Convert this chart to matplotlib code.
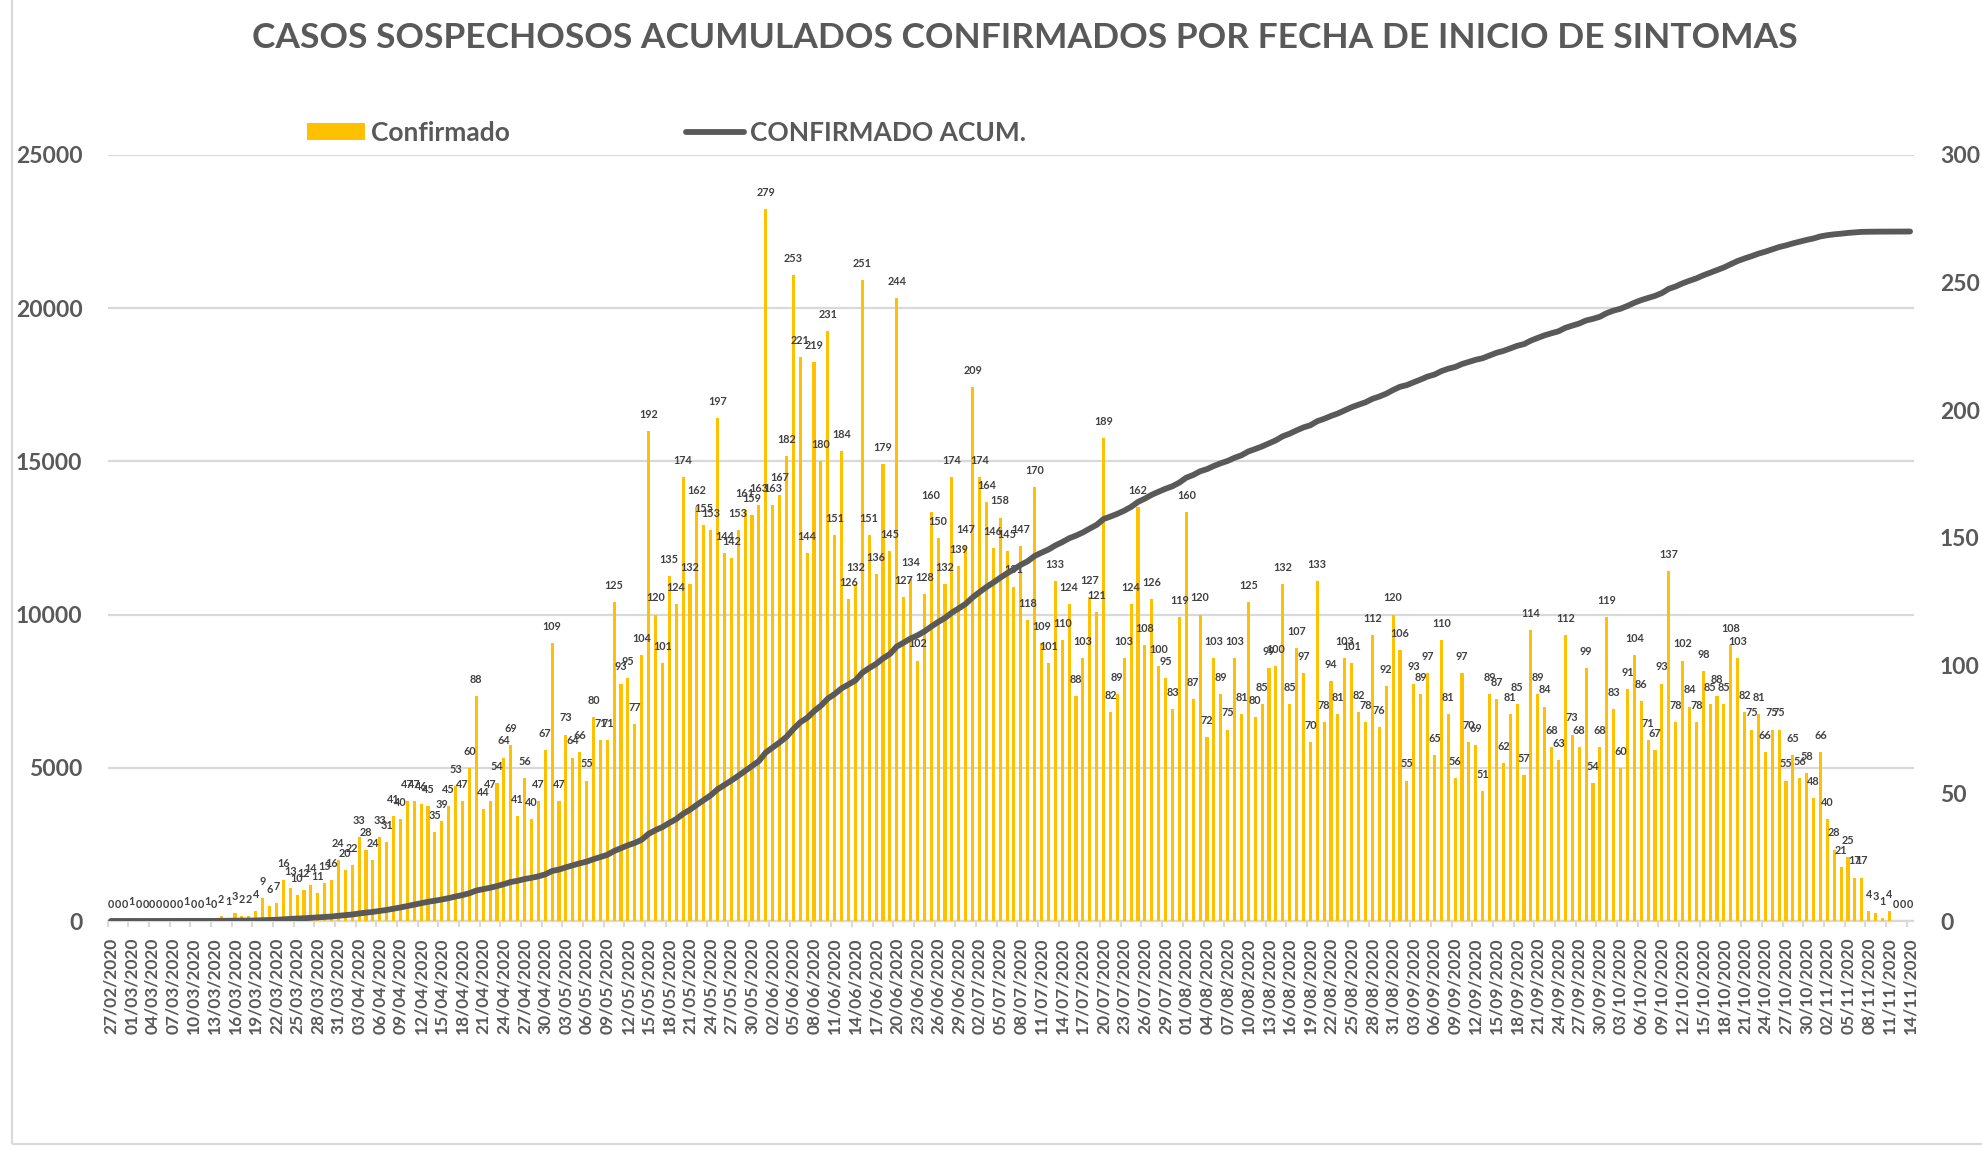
import numpy as np
import pandas as pd
import matplotlib
matplotlib.use('Agg')
import matplotlib.pyplot as plt
from matplotlib.patches import Patch, Rectangle
from matplotlib.lines import Line2D

FECHA_INICIO = '2020-02-27'

# casos confirmados por fecha de inicio de sintomas, un bloque por mes
feb = [0, 0, 0]
mar = [1, 0, 0, 0, 0, 0, 0, 0, 1, 0, 0, 1, 0, 2, 1, 3, 2, 2, 4, 9, 6, 7, 16, 13, 10,
       12, 14, 11, 15, 16, 24]
abr = [20, 22, 33, 28, 24, 33, 31, 41, 40, 47, 47, 46, 45, 35, 39, 45, 53, 47, 60, 88,
       44, 47, 54, 64, 69, 41, 56, 40, 47, 67]
may = [109, 47, 73, 64, 66, 55, 80, 71, 71, 125, 93, 95, 77, 104, 192, 120, 101, 135,
       124, 174, 132, 162, 155, 153, 197, 144, 142, 153, 161, 159, 163]
jun = [279, 163, 167, 182, 253, 221, 144, 219, 180, 231, 151, 184, 126, 132, 251, 151,
       136, 179, 145, 244, 127, 134, 102, 128, 160, 150, 132, 174, 139, 147]
jul = [209, 174, 164, 146, 158, 145, 131, 147, 118, 170, 109, 101, 133, 110, 124, 88,
       103, 127, 121, 189, 82, 89, 103, 124, 162, 108, 126, 100, 95, 83, 119]
ago = [160, 87, 120, 72, 103, 89, 75, 103, 81, 125, 80, 85, 99, 100, 132, 85, 107, 97,
       70, 133, 78, 94, 81, 103, 101, 82, 78, 112, 76, 92, 120]
sep = [106, 55, 93, 89, 97, 65, 110, 81, 56, 97, 70, 69, 51, 89, 87, 62, 81, 85, 57,
       114, 89, 84, 68, 63, 112, 73, 68, 99, 54, 68]
oct_ = [119, 83, 60, 91, 104, 86, 71, 67, 93, 137, 78, 102, 84, 78, 98, 85, 88, 85, 108,
        103, 82, 75, 81, 66, 75, 75, 55, 65, 56, 58, 48]
nov = [66, 40, 28, 21, 25, 17, 17, 4, 3, 1, 4, 0, 0, 0]

confirmado = np.array(feb + mar + abr + may + jun + jul + ago + sep + oct_ + nov)
confirmado_acum = np.cumsum(confirmado)

fechas = pd.date_range(FECHA_INICIO, periods=len(confirmado), freq='D')
etiquetas = [f.strftime('%d/%m/%Y') for f in fechas]

TITULO = 'CASOS SOSPECHOSOS ACUMULADOS CONFIRMADOS POR FECHA DE INICIO DE SINTOMAS'
LEYENDA = ['Confirmado', 'CONFIRMADO ACUM.']
ticks_izq = [0, 5000, 10000, 15000, 20000, 25000]
ticks_der = [0, 50, 100, 150, 200, 250, 300]

AMARILLO = '#FFC000'
GRIS = '#595959'
GRIS_OSC = '#404040'
GRIS_CLARO = '#D9D9D9'

plt.rcParams['font.family'] = ['Lato', 'DejaVu Sans']
plt.rcParams['font.weight'] = 'bold'

W, H = 1982, 1149
fig = plt.figure(figsize=(W / 100, H / 100), dpi=100)
x0, x1, ytop, ybot = 107.5, 1913.5, 155, 921
ax = fig.add_axes([x0 / W, 1 - ybot / H, (x1 - x0) / W, (ybot - ytop) / H])
axb = ax.twinx()
axl = ax.twinx()

x = np.arange(len(confirmado))

# eje izquierdo: acumulado + rejilla
ax.set_ylim(0, 25000)
ax.set_yticks(ticks_izq)
ax.yaxis.grid(True, color=GRIS_CLARO, lw=1.6)
ax.set_axisbelow(True)
ax.tick_params(axis='y', length=0, pad=18, labelsize=16.5, labelcolor=GRIS)
for s in ['top', 'left', 'right']:
    ax.spines[s].set_visible(False)
ax.spines['bottom'].set_color(GRIS_CLARO)
ax.spines['bottom'].set_linewidth(1.6)

ax.set_xlim(-0.5, len(confirmado) - 0.5)
ax.set_xticks(x[::3])
ax.set_xticklabels(etiquetas[::3], rotation=90, fontsize=12.5, color=GRIS)
ax.set_xticks(np.arange(-0.5, len(confirmado), 3), minor=True)
ax.tick_params(axis='x', which='major', length=0, pad=12)
ax.tick_params(axis='x', which='minor', length=4, width=1.5, color=GRIS_CLARO)

# eje derecho: barras diarias
barras = axb.bar(x, confirmado, width=0.45, color=AMARILLO)
axb.bar_label(barras, labels=[str(v) for v in confirmado], padding=8,
              fontsize=7.8, color=GRIS_OSC, fontweight='bold')
axb.set_ylim(0, 300)
axb.set_yticks(ticks_der)
axb.tick_params(axis='y', length=0, pad=19, labelsize=16.5, labelcolor=GRIS)
for s in axb.spines.values():
    s.set_visible(False)

# linea acumulada encima de las barras
axl.plot(x, confirmado_acum, color=GRIS, lw=4.2, solid_capstyle='round',
         solid_joinstyle='round')
axl.set_ylim(0, 25000)
axl.yaxis.set_visible(False)
for s in axl.spines.values():
    s.set_visible(False)

fig.text(1025 / W, 1 - 38 / H, TITULO, ha='center', va='center', fontsize=25.5,
         color=GRIS, fontweight='bold')

handles = [Patch(facecolor=AMARILLO, edgecolor='none'),
           Line2D([], [], color=GRIS, lw=4.2, solid_capstyle='round')]
fig.legend(handles, LEYENDA, loc='center left', bbox_to_anchor=(294 / W, 1 - 133 / H),
           ncol=2, frameon=False, fontsize=19, labelcolor=GRIS, borderpad=0,
           handlelength=2.2, handleheight=0.6, handletextpad=0.2, columnspacing=6.7)

fig.patches.append(Rectangle((12 / W, 5 / H), 1.5, 1.5, transform=fig.transFigure,
                             fill=False, edgecolor=GRIS_CLARO, lw=1.5))

fig.savefig('out.png', dpi=100)
